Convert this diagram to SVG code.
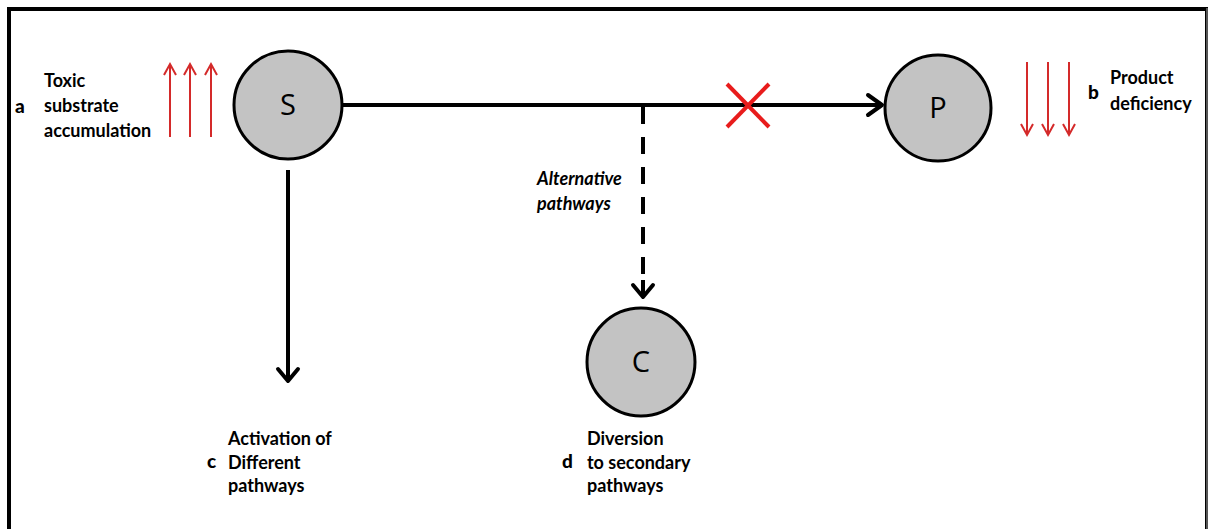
<svg xmlns="http://www.w3.org/2000/svg" width="1208" height="529" viewBox="0 0 1208 529">
<style>
.node circle{fill:#c3c3c3;stroke:#000;stroke-width:3}
.ntext{font-family:"Open Sans","Liberation Sans",sans-serif;font-size:29px;fill:#000;text-anchor:middle}
.lbl{font-family:Lato,"Liberation Sans",sans-serif;font-weight:bold;font-size:18px;fill:#000}
.let{font-family:Lato,"Liberation Sans",sans-serif;font-weight:900;font-size:19px;fill:#000}
.it{font-style:italic}
.conn{stroke:#000;stroke-width:4;fill:none}
.head{stroke:#000;stroke-width:4;fill:none;stroke-linecap:round;stroke-linejoin:round}
.red{stroke:#d42a2a;stroke-width:2;fill:none}
</style>
<rect x="0" y="0" width="1208" height="529" fill="#fff"/>
<path d="M9,540 V9 H1207 V540" fill="none" stroke="#000" stroke-width="4"/>
<line x1="1207" y1="8" x2="1207" y2="529" stroke="#555" stroke-width="2"/>

<g id="connectors">
  <line class="conn" x1="343" y1="105" x2="880" y2="105"/>
  <path class="head" d="M868,95 L882,105 L868,115"/>
  <line class="conn" x1="288" y1="170" x2="288" y2="380"/>
  <path class="head" d="M278,369 L288,381 L298,369"/>
  <line class="conn" x1="643" y1="107" x2="643" y2="285" stroke-width="5" stroke-dasharray="17 13"/>
  <line class="conn" x1="643" y1="280" x2="643" y2="294"/>
  <path class="head" d="M633,285 L643,297 L653,285"/>
  <g id="block" stroke="#e81c1c" stroke-width="4">
    <line x1="727" y1="84" x2="769" y2="127"/>
    <line x1="769" y1="84" x2="727" y2="127"/>
  </g>
</g>

<g id="node-S" class="node">
  <circle cx="288" cy="105" r="54"/>
  <text class="ntext" x="288" y="115">S</text>
</g>
<g id="node-P" class="node">
  <circle cx="938" cy="108" r="53"/>
  <text class="ntext" x="938" y="118">P</text>
</g>
<g id="node-C" class="node">
  <circle cx="641" cy="362" r="54"/>
  <text class="ntext" x="641" y="372">C</text>
</g>

<g id="label-a">
  <text class="let" x="15" y="113">a</text>
  <text class="lbl" x="44" y="87">Toxic</text>
  <text class="lbl" x="44" y="112">substrate</text>
  <text class="lbl" x="44" y="137">accumulation</text>
  <g class="red">
    <line x1="170" y1="64" x2="170" y2="137"/><path d="M164,75 L170,64 L176,75"/>
    <line x1="190" y1="64" x2="190" y2="137"/><path d="M184,75 L190,64 L196,75"/>
    <line x1="211" y1="64" x2="211" y2="137"/><path d="M205,75 L211,64 L217,75"/>
  </g>
</g>

<g id="label-b">
  <g class="red">
    <line x1="1027" y1="62" x2="1027" y2="135"/><path d="M1021,124 L1027,135 L1033,124"/>
    <line x1="1048" y1="62" x2="1048" y2="135"/><path d="M1042,124 L1048,135 L1054,124"/>
    <line x1="1069" y1="62" x2="1069" y2="135"/><path d="M1063,124 L1069,135 L1075,124"/>
  </g>
  <text class="let" x="1088" y="99">b</text>
  <text class="lbl" x="1110" y="84">Product</text>
  <text class="lbl" x="1110" y="110">deficiency</text>
</g>

<g id="label-alt">
  <text class="lbl it" x="537" y="185">Alternative</text>
  <text class="lbl it" x="537" y="210">pathways</text>
</g>

<g id="label-c">
  <text class="let" x="207" y="468">c</text>
  <text class="lbl" x="228" y="445">Activation of</text>
  <text class="lbl" x="228" y="469">Different</text>
  <text class="lbl" x="228" y="492">pathways</text>
</g>

<g id="label-d">
  <text class="let" x="562" y="468">d</text>
  <text class="lbl" x="587" y="445">Diversion</text>
  <text class="lbl" x="587" y="469">to secondary</text>
  <text class="lbl" x="587" y="492">pathways</text>
</g>
</svg>
